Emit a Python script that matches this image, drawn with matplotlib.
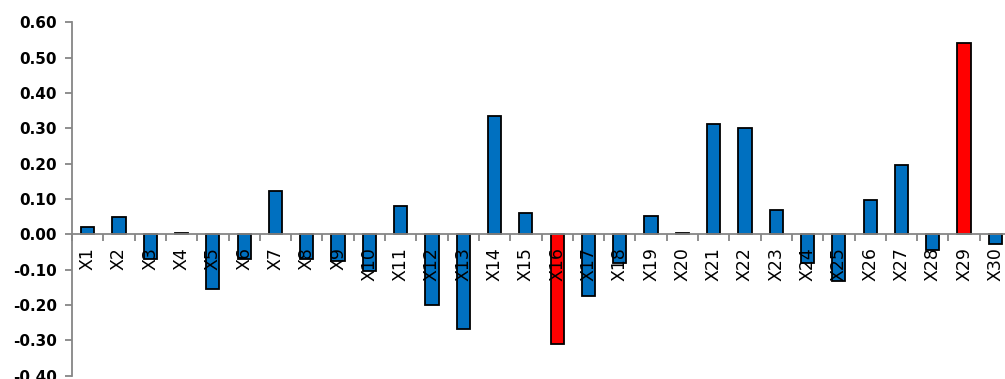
import matplotlib
matplotlib.use("Agg")
import matplotlib.pyplot as plt
import numpy as np

categories = [f"X{i}" for i in range(1, 31)]
values = [0.02, 0.05, -0.07, 0.003, -0.155, -0.07, 0.123, -0.07, -0.075, -0.103,
          0.08, -0.20, -0.267, 0.336, 0.06, -0.31, -0.175, -0.08, 0.051, 0.005,
          0.311, 0.30, 0.07, -0.08, -0.133, 0.098, 0.196, -0.044, 0.54, -0.027]
highlight = ["X16", "X29"]
yticks = [-0.4, -0.3, -0.2, -0.1, 0.0, 0.1, 0.2, 0.3, 0.4, 0.5, 0.6]

blue = "#0070C0"
red = "#FF0000"
gray = "#868686"

fig = plt.figure(figsize=(10.05, 3.79), dpi=100)
ax = fig.add_axes([72/1005, 3.4/379, 939/1005, 353.3/379])
ax.set_axisbelow(False)

x = np.arange(len(categories))
colors = [red if c in highlight else blue for c in categories]
ax.bar(x, values, width=0.42, color=colors, edgecolor="black", linewidth=1.3, zorder=1)

ax.set_xlim(-0.5, len(categories) - 0.5)
ax.set_ylim(-0.4, 0.6)
ax.set_yticks(yticks)
ax.set_yticklabels([f"{v:.2f}" for v in yticks], fontsize=11, fontweight="bold")

for s in ["top", "right"]:
    ax.spines[s].set_visible(False)
ax.spines["left"].set_color(gray)
ax.spines["left"].set_linewidth(1.3)
ax.spines["bottom"].set_position(("data", 0))
ax.spines["bottom"].set_color(gray)
ax.spines["bottom"].set_linewidth(1.3)
ax.spines["bottom"].set_zorder(3)

ax.tick_params(axis="y", direction="out", length=5, width=1.3, color=gray, pad=6)
ax.set_xticks(np.arange(len(categories) + 1) - 0.5)
ax.set_xticklabels([])
ax.tick_params(axis="x", which="major", direction="out", length=5, width=1.3, color=gray)
ax.set_xticks(x, minor=True)
ax.set_xticklabels(categories, minor=True, rotation=90, fontsize=12.5)
ax.tick_params(axis="x", which="minor", length=0, pad=9)

fig.savefig("out.png", dpi=100)
